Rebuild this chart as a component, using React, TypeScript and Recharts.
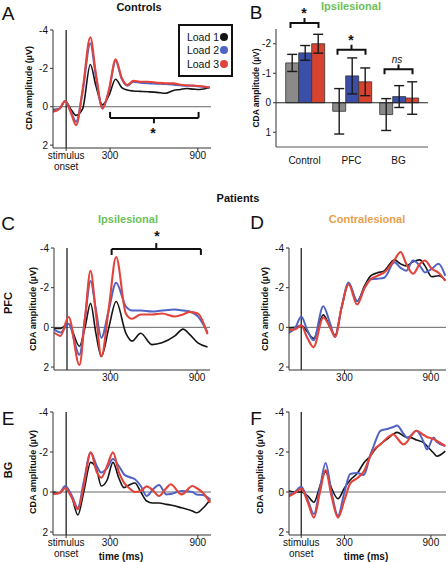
import { LineChart, Line, XAxis, YAxis, ReferenceLine, BarChart, Bar, ErrorBar } from 'recharts';

const FONT = '"Liberation Sans", Arial, Helvetica, sans-serif';
const BLACK = '#151515';
const BLUE = '#5163c4';
const RED = '#e2443b';
const GREEN = '#6cbf5a';
const ORANGE = '#eaa04c';

// A - controls
const A_TIME = [-90, -45, -7, 34, 68, 113, 165, 203, 248, 293, 338, 380, 417, 460, 507, 560, 620, 680, 733, 780, 823, 870, 913, 981];
const A_LOAD1 = [0.15, 0.1, -0.3, 0.15, 0.45, 0.1, -2.2, -1.1, -0.1, -0.6, -1.43, -1.0, -0.87, -0.82, -0.8, -0.78, -0.75, -0.7, -0.85, -0.9, -0.95, -0.92, -0.9, -1.0];
const A_LOAD2 = [0.2, 0.1, -0.3, 0.3, 0.78, -0.8, -3.3, -1.6, 0.05, -0.85, -2.4, -1.45, -1.1, -1.3, -1.25, -1.22, -1.2, -1.18, -1.15, -1.12, -1.1, -1.1, -1.05, -1.0];
const A_LOAD3 = [0.26, 0.1, -0.3, 0.35, 0.96, -0.9, -3.62, -1.74, 0.1, -0.9, -2.47, -1.5, -1.13, -1.35, -1.3, -1.3, -1.25, -1.22, -1.22, -1.15, -1.12, -1.1, -1.08, -1.0];

// C - PFC ipsilesional
const C_TIME = [-90, -45, 11, 86, 125, 163, 200, 238, 290, 340, 408, 450, 510, 589, 657, 747, 804, 849, 906, 973];
const C_LOAD1 = [0.05, 0.05, -0.17, 0.95, 0.0, -1.21, 0.3, 1.47, 0.0, -1.3, 0.3, 0.69, 0.3, 0.87, 0.78, 0.43, 0.09, 0.35, 0.78, 0.99];
const C_LOAD2 = [0.1, 0.26, -0.17, 1.38, -0.5, -2.34, -0.9, 0.52, -0.9, -2.25, -1.04, -0.85, -0.85, -0.8, -0.85, -0.9, -0.85, -0.8, -0.55, 0.26];
const C_LOAD3 = [0.26, 0.43, -0.52, 1.9, -0.5, -2.85, -0.7, 1.44, -1.0, -3.55, -0.69, -0.43, -0.65, -0.65, -0.7, -0.55, -0.65, -0.78, -0.7, 0.35];

// D - PFC contralesional
const D_TIME = [-90, -40, 0, 40, 85, 153, 200, 235, 280, 329, 388, 440, 482, 530, 576, 647, 690, 729, 776, 824, 859, 906, 953, 1000];
const D_LOAD1 = [0.03, 0.0, -0.1, 0.2, 0.56, -0.63, 0.0, 0.4, -1.0, -2.17, -1.32, -2.1, -2.6, -2.75, -2.85, -3.4, -3.2, -3.1, -3.3, -3.4, -3.1, -2.55, -2.6, -2.38];
const D_LOAD2 = [0.3, 0.0, -0.55, 0.1, 0.65, -1.06, -0.2, 0.48, -1.0, -2.26, -1.32, -2.0, -2.43, -2.45, -2.5, -3.28, -3.0, -2.85, -3.37, -3.1, -2.77, -2.95, -3.2, -2.6];
const D_LOAD3 = [0.14, 0.1, -0.1, 0.5, 1.0, -0.5, 0.0, 0.48, -1.0, -2.17, -1.15, -2.0, -2.43, -2.6, -2.77, -3.4, -3.8, -3.2, -2.7, -3.2, -3.37, -2.95, -2.75, -2.34];

// E - BG ipsilesional
const E_TIME = [-90, -45, -7, 40, 80, 120, 168, 209, 240, 280, 320, 360, 395, 430, 470, 510, 550, 590, 634, 686, 714, 789, 863, 891, 936, 985];
const E_LOAD1 = [0.0, 0.05, -0.2, 0.3, 1.15, 0.0, -1.48, -1.1, -0.3, -0.6, -1.48, -0.7, -0.22, -0.35, -0.45, 0.0, 0.45, 0.55, 0.55, 0.62, 0.65, 0.79, 0.95, 1.04, 0.8, 0.37];
const E_LOAD2 = [0.1, 0.05, -0.3, 0.2, 0.8, -0.5, -1.98, -1.3, -0.97, -1.2, -1.65, -1.3, -0.89, -0.75, -0.64, -0.3, 0.2, -0.1, -0.35, 0.12, 0.1, -0.05, 0.0, 0.12, 0.15, 0.37];
const E_LOAD3 = [0.1, 0.05, -0.2, 0.3, 0.87, -0.3, -1.98, -1.0, -0.72, -1.3, -1.98, -1.0, -0.47, -0.2, 0.0, -0.05, -0.28, -0.1, 0.2, -0.2, -0.39, 0.12, -0.3, -0.2, 0.05, 0.54];

// F - BG contralesional
const F_TIME = [-95, -45, 0, 45, 88, 130, 169, 210, 255, 300, 340, 390, 434, 480, 503, 550, 596, 640, 665, 711, 734, 757, 800, 850, 873, 919, 942, 1000];
const F_LOAD1 = [-0.08, 0.0, 0.0, 0.2, 0.51, -0.3, -1.02, -0.2, 0.34, -0.2, -0.6, -0.94, -1.45, -1.8, -2.04, -2.4, -2.64, -2.9, -2.98, -2.8, -2.72, -2.72, -2.6, -2.47, -2.3, -1.95, -1.79, -2.04];
const F_LOAD2 = [0.17, 0.0, -0.26, 0.4, 1.1, -0.2, -1.45, 0.0, 1.19, 0.0, -0.9, -0.95, -0.85, -1.87, -2.3, -3.06, -3.15, -3.25, -3.32, -2.9, -2.72, -2.8, -3.06, -2.5, -2.13, -2.72, -2.5, -2.3];
const F_LOAD3 = [0.26, 0.05, -0.17, 0.5, 1.28, 0.0, -1.1, 0.2, 1.28, 0.4, -0.43, -0.7, -1.02, -1.8, -2.1, -2.38, -2.7, -2.89, -2.7, -2.38, -2.5, -2.75, -3.06, -2.85, -2.75, -2.65, -2.55, -2.3];

// B - bar summary
const GROUPS = ['Control', 'PFC', 'BG'];
const B_LOAD1 = [-1.35, 0.29, 0.4];
const B_LOAD2 = [-1.69, -0.91, -0.21];
const B_LOAD3 = [-2.0, -0.71, -0.16];
const B_ERR1 = [0.29, 0.77, 0.54];
const B_ERR2 = [0.25, 0.61, 0.37];
const B_ERR3 = [0.32, 0.47, 0.55];
// bracket level and its top tick, per group
const B_BRACKET = [-2.53, -1.63, -0.97];
const B_BRACKET_TOP = [-2.87, -1.97, -1.3];

const Y_TICKS = [-4, -2, 0, 2];
const LEGEND = ['Load 1', 'Load 2', 'Load 3'];
const COLORS = [BLACK, BLUE, RED];

type Box = { x0: number; y0: number; x1: number; y1: number };
type Brk = { x0: number; x1: number; y: number; yEnd: number; xc: number; yc: number };

const YW = 30;
const MT = 8;
const MR = 4;
const XH = 30;

function bracketLines(b: Brk, key: string) {
  const segs = [
    [{ x: b.x0, y: b.y }, { x: b.x1, y: b.y }],
    [{ x: b.x0, y: b.y }, { x: b.x0, y: b.yEnd }],
    [{ x: b.x1, y: b.y }, { x: b.x1, y: b.yEnd }],
    [{ x: b.xc, y: b.y }, { x: b.xc, y: b.yc }],
  ];
  return segs.map((s, i) => (
    <ReferenceLine key={`${key}-${i}`} segment={s} stroke="#111" strokeWidth={2} ifOverflow="visible" />
  ));
}

// bracket over a bar group: arms hang down 5px from the bar level, tick rises to the top value
function groupBracket(halfWidth: number) {
  return (props: any) => {
    const { x1, y1, x2, y2 } = props;
    const top = y1 - 5;
    const d = `M${x1 - halfWidth},${y1} L${x1 - halfWidth},${top} L${x1 + halfWidth},${top} L${x1 + halfWidth},${y1} M${x2},${top} L${x2},${y2}`;
    return <path d={d} fill="none" stroke="#111" strokeWidth={2} />;
  };
}

function TimeTick(props: any) {
  const { x, y, payload } = props;
  const style = { fontSize: 10, fill: '#111', fontFamily: FONT };
  if (payload.value === 0) {
    return (
      <text x={x} y={y} textAnchor="middle" style={style}>
        <tspan x={x} dy={7}>stimulus</tspan>
        <tspan x={x} dy={11}>onset</tspan>
      </text>
    );
  }
  return (
    <text x={x} y={y} dy={7} textAnchor="middle" style={style}>
      {payload.value}
    </text>
  );
}

function Wave(p: {
  box: Box;
  xDomain: [number, number];
  time: number[];
  l1: number[];
  l2: number[];
  l3: number[];
  ticks: number[];
  bracket?: Brk;
}) {
  const { box } = p;
  const data = p.time.map((t, i) => ({ t, l1: p.l1[i], l2: p.l2[i], l3: p.l3[i] }));
  return (
    <div style={{ position: 'absolute', left: box.x0 - YW, top: box.y0 - MT }}>
      <LineChart
        width={box.x1 - box.x0 + YW + MR}
        height={box.y1 - box.y0 + MT + XH}
        data={data}
        margin={{ top: MT, right: MR, bottom: 0, left: 0 }}
      >
        <XAxis
          dataKey="t"
          type="number"
          domain={p.xDomain}
          ticks={p.ticks}
          allowDataOverflow
          height={XH}
          tickSize={3}
          tickMargin={1}
          stroke="#333"
          tick={<TimeTick />}
          interval={0}
        />
        <YAxis
          type="number"
          domain={[-4, 2.15]}
          reversed
          allowDataOverflow
          ticks={Y_TICKS}
          interval={0}
          width={YW}
          tickSize={3}
          stroke="#333"
          tick={{ fontSize: 10, fill: '#111', fontFamily: FONT }}
        />
        <ReferenceLine y={0} stroke="#666" strokeWidth={1} />
        <ReferenceLine x={0} stroke="#222" strokeWidth={1.3} />
        {p.bracket ? bracketLines(p.bracket, 'br') : null}
        <Line dataKey="l1" type="monotone" stroke={BLACK} strokeWidth={1.6} dot={false} isAnimationActive={false} />
        <Line dataKey="l2" type="monotone" stroke={BLUE} strokeWidth={2} dot={false} isAnimationActive={false} />
        <Line dataKey="l3" type="monotone" stroke={RED} strokeWidth={2.1} dot={false} isAnimationActive={false} />
      </LineChart>
    </div>
  );
}

function Bars() {
  const box = { x0: 276, y0: 29, x1: 428, y1: 147 };
  const yw = 26;
  const mt = 16;
  const data = GROUPS.map((g, i) => ({
    g,
    l1: B_LOAD1[i],
    l2: B_LOAD2[i],
    l3: B_LOAD3[i],
    e1: B_ERR1[i],
    e2: B_ERR2[i],
    e3: B_ERR3[i],
  }));
  return (
    <div style={{ position: 'absolute', left: box.x0 - yw, top: box.y0 - mt }}>
      <BarChart
        width={box.x1 - box.x0 + yw + MR}
        height={box.y1 - box.y0 + mt + 26}
        data={data}
        margin={{ top: mt, right: MR, bottom: 0, left: 0 }}
        barCategoryGap="10%"
        barGap={0}
      >
        <XAxis
          dataKey="g"
          height={26}
          padding={{ left: 5, right: 6 }}
          tickLine={false}
          stroke="#555"
          tickMargin={4}
          tick={{ fontSize: 10, fill: '#111', fontFamily: FONT }}
        />
        <YAxis
          type="number"
          domain={[-2.5, 1.5]}
          reversed
          allowDataOverflow
          ticks={[-2, -1, 0, 1]}
          interval={0}
          width={yw}
          tickSize={3}
          stroke="#333"
          tick={{ fontSize: 10, fill: '#111', fontFamily: FONT }}
        />
        <Bar dataKey="l1" fill="#8a8a8a" stroke="#333" strokeWidth={0.8} isAnimationActive={false}>
          <ErrorBar dataKey="e1" width={5} stroke="#1a1a1a" strokeWidth={1.4} direction="y" />
        </Bar>
        <Bar dataKey="l2" fill="#3b4ea8" stroke="#333" strokeWidth={0.8} isAnimationActive={false}>
          <ErrorBar dataKey="e2" width={5} stroke="#1a1a1a" strokeWidth={1.4} direction="y" />
        </Bar>
        <Bar dataKey="l3" fill="#d8432f" stroke="#333" strokeWidth={0.8} isAnimationActive={false}>
          <ErrorBar dataKey="e3" width={5} stroke="#1a1a1a" strokeWidth={1.4} direction="y" />
        </Bar>
        <ReferenceLine y={0} stroke="#222" strokeWidth={1.2} />
        {GROUPS.map((g, i) => (
          <ReferenceLine
            key={g}
            segment={[{ x: g, y: B_BRACKET[i] }, { x: g, y: B_BRACKET_TOP[i] }]}
            ifOverflow="visible"
            shape={groupBracket(14)}
          />
        ))}
      </BarChart>
    </div>
  );
}

function Txt(p: { x: number; y: number; size?: number; bold?: boolean; color?: string; italic?: boolean; children: any }) {
  return (
    <div
      style={{
        position: 'absolute',
        left: p.x,
        top: p.y,
        transform: 'translate(-50%, -50%)',
        fontSize: p.size ?? 10,
        fontWeight: p.bold ? 'bold' : 'normal',
        fontStyle: p.italic ? 'italic' : 'normal',
        color: p.color ?? '#111',
        whiteSpace: 'nowrap',
        lineHeight: 1,
      }}
    >
      {p.children}
    </div>
  );
}

function VTxt(p: { x: number; y: number; size?: number; children: any }) {
  return (
    <div
      style={{
        position: 'absolute',
        left: p.x,
        top: p.y,
        transform: 'translate(-50%, -50%) rotate(-90deg)',
        fontSize: p.size ?? 9,
        fontWeight: 'bold',
        color: '#111',
        whiteSpace: 'nowrap',
        lineHeight: 1,
      }}
    >
      {p.children}
    </div>
  );
}

export default function App() {
  const leftDom: [number, number] = [-90, 990];
  const rightDom: [number, number] = [-85, 1005];
  return (
    <div style={{ position: 'absolute', left: 0, top: 0, width: 448, height: 562, background: '#fff', fontFamily: FONT, overflow: 'hidden' }}>
      <Wave
        box={{ x0: 53, y0: 30, x1: 211, y1: 148 }}
        xDomain={leftDom}
        time={A_TIME}
        l1={A_LOAD1}
        l2={A_LOAD2}
        l3={A_LOAD3}
        ticks={[0, 300, 900]}
        bracket={{ x0: 300, x1: 905, y: 0.58, yEnd: 0.27, xc: 600, yc: 0.86 }}
      />
      <Bars />
      <Wave
        box={{ x0: 54, y0: 248, x1: 210, y1: 370 }}
        xDomain={leftDom}
        time={C_TIME}
        l1={C_LOAD1}
        l2={C_LOAD2}
        l3={C_LOAD3}
        ticks={[300, 900]}
        bracket={{ x0: 309, x1: 927, y: -3.95, yEnd: -3.65, xc: 618, yc: -4.25 }}
      />
      <Wave
        box={{ x0: 289, y0: 248, x1: 446, y1: 370 }}
        xDomain={rightDom}
        time={D_TIME}
        l1={D_LOAD1}
        l2={D_LOAD2}
        l3={D_LOAD3}
        ticks={[300, 900]}
      />
      <Wave
        box={{ x0: 53, y0: 412, x1: 211, y1: 535 }}
        xDomain={leftDom}
        time={E_TIME}
        l1={E_LOAD1}
        l2={E_LOAD2}
        l3={E_LOAD3}
        ticks={[0, 300, 900]}
      />
      <Wave
        box={{ x0: 289, y0: 412, x1: 446, y1: 535 }}
        xDomain={rightDom}
        time={F_TIME}
        l1={F_LOAD1}
        l2={F_LOAD2}
        l3={F_LOAD3}
        ticks={[0, 300, 900]}
      />

      {/* legend of panel A */}
      <div
        style={{
          position: 'absolute',
          left: 178,
          top: 24,
          width: 51,
          height: 45,
          border: '2px solid #111',
          background: '#fff',
          fontSize: 10.5,
          color: '#111',
          paddingTop: 4,
          boxSizing: 'content-box',
        }}
      >
        {LEGEND.map((name, i) => (
          <div key={name} style={{ display: 'flex', alignItems: 'center', justifyContent: 'flex-end', height: 13.5, paddingRight: 3 }}>
            <span>{name}</span>
            <span style={{ display: 'inline-block', width: 8, height: 8, borderRadius: 4, background: COLORS[i], marginLeft: 1 }} />
          </div>
        ))}
      </div>

      {/* panel letters */}
      <Txt x={8} y={13} size={19}>A</Txt>
      <Txt x={256} y={12} size={19}>B</Txt>
      <Txt x={8} y={223} size={19}>C</Txt>
      <Txt x={257} y={222} size={19}>D</Txt>
      <Txt x={8} y={418} size={19}>E</Txt>
      <Txt x={256} y={418} size={19}>F</Txt>

      {/* titles */}
      <Txt x={139} y={7} size={11} bold>Controls</Txt>
      <Txt x={351} y={6} size={11} bold color={GREEN}>Ipsilesional</Txt>
      <Txt x={238} y={198} size={11} bold>Patients</Txt>
      <Txt x={128} y={219} size={11} bold color={GREEN}>Ipsilesional</Txt>
      <Txt x={367} y={219} size={11} bold color={ORANGE}>Contralesional</Txt>
      <VTxt x={8} y={303} size={11}>PFC</VTxt>
      <VTxt x={8} y={470} size={11}>BG</VTxt>

      {/* axis titles */}
      <VTxt x={29} y={88}>CDA amplitude (µV)</VTxt>
      <VTxt x={256} y={88} size={8.5}>CDA amplitude (µV)</VTxt>
      <VTxt x={33} y={309}>CDA amplitude (µV)</VTxt>
      <VTxt x={265} y={309}>CDA amplitude (µV)</VTxt>
      <VTxt x={33} y={472}>CDA amplitude (µV)</VTxt>
      <VTxt x={260} y={472}>CDA amplitude (µV)</VTxt>
      <Txt x={121} y={557} size={10} bold>time (ms)</Txt>
      <Txt x={366} y={557} size={10} bold>time (ms)</Txt>

      {/* significance marks */}
      <Txt x={153} y={133} size={14} bold>*</Txt>
      <Txt x={304} y={13} size={14} bold>*</Txt>
      <Txt x={351} y={40} size={14} bold>*</Txt>
      <Txt x={397} y={60} size={10} italic>ns</Txt>
      <Txt x={157} y={236} size={14} bold>*</Txt>
    </div>
  );
}
